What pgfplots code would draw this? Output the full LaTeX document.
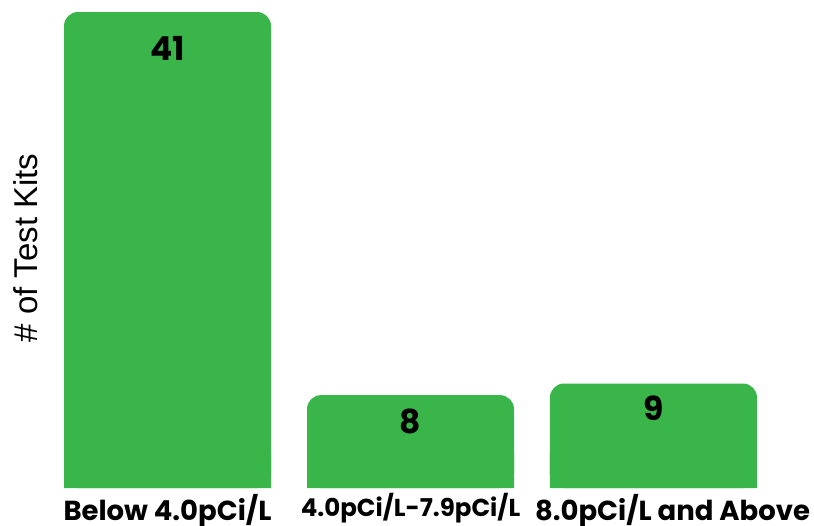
\documentclass[border=0pt]{standalone}
\usepackage{pgfplots}
\pgfplotsset{compat=1.18}
\usepackage{fontspec}
\setmainfont{Poppins}
\newfontfamily\arialfont{Liberation Sans}
\definecolor{barg}{RGB}{57,181,74}

\begin{document}
\begin{tikzpicture}
\begin{axis}[
  scale only axis,
  width=693pt, height=476pt,
  at={(0,0)}, anchor=south west,
  ymin=0, ymax=41,
  xmin=-0.426, xmax=2.426,
  axis lines=none,
  ybar, bar width=207pt, bar shift=0pt,
  xtick=\empty, ytick=\empty,
  clip=false,
]
% rounded bars
\addplot[fill=barg, draw=none, rounded corners=14pt] coordinates {(0,41) (1,8) (2,9)};
% square bottoms so only the top corners look round
\addplot[fill=barg, draw=none, y filter/.expression={min(y,3)}] coordinates {(0,41) (1,8) (2,9)};
% value labels
\node[anchor=base, inner sep=0pt, font=\bfseries\fontsize{33}{35}\selectfont] at (axis cs:0,41) [yshift=-48pt] {41};
\node[anchor=base, inner sep=0pt, font=\bfseries\fontsize{33}{35}\selectfont] at (axis cs:1,8) [yshift=-38pt] {8};
\node[anchor=base, inner sep=0pt, font=\bfseries\fontsize{33}{35}\selectfont] at (axis cs:2,9) [yshift=-37pt] {9};
% category labels
\node[anchor=base, inner sep=0pt, font=\bfseries\fontsize{27.5}{29}\selectfont] at (axis cs:0,0) [yshift=-32pt] {Below 4.0pCi/L};
\node[anchor=base, inner sep=0pt, font=\bfseries\fontsize{24.5}{26}\selectfont] at (axis cs:1,0) [yshift=-28pt] {4.0pCi/L-7.9pCi/L};
\node[anchor=base, inner sep=0pt, font=\bfseries\fontsize{27.5}{29}\selectfont] at (axis cs:2,0) [yshift=-32pt, xshift=19pt] {8.0pCi/L and Above};
\end{axis}
\node[rotate=90, anchor=base, inner sep=0pt, font=\arialfont\fontsize{33}{35}\selectfont] at (-26pt,240pt) {\# of Test Kits};
\pgfresetboundingbox
\path (-64pt,-37pt) rectangle (750pt,488pt);
\end{tikzpicture}
\end{document}
